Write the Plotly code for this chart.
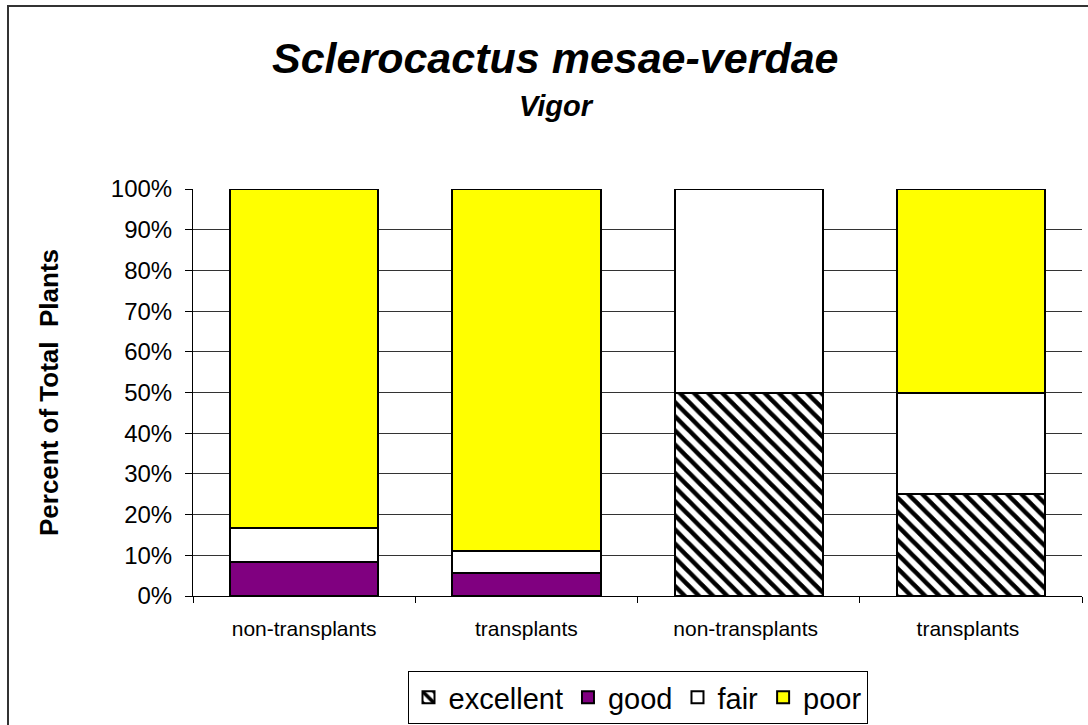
import plotly.graph_objects as go

categories = ["non-transplants", "transplants", "non-transplants ", "transplants "]
excellent = [0, 0, 50, 25]
good = [8.33, 5.56, 0, 0]
fair = [8.33, 5.56, 50, 25]
poor = [83.34, 88.88, 0, 50]
y_ticks = [0, 10, 20, 30, 40, 50, 60, 70, 80, 90, 100]
y_tick_labels = [f"{v}%" for v in y_ticks]

FONT = "Arial, Liberation Sans, sans-serif"
W, H = 1088, 725
L, R, T, B = 193, 6, 189, 129

def px_x(p):
    return (p - L) / (W - L - R)

def px_y(p):
    return (H - B - p) / (H - T - B)

fig = go.Figure()
line = dict(color="black", width=2)
fig.add_trace(go.Bar(name="excellent", x=categories, y=excellent,
                     marker=dict(color="white", line=line,
                                 pattern=dict(shape="\\", fgcolor="black", bgcolor="white",
                                              fgopacity=1, size=10, solidity=0.45))))
fig.add_trace(go.Bar(name="good", x=categories, y=good,
                     marker=dict(color="#800080", line=line)))
fig.add_trace(go.Bar(name="fair", x=categories, y=fair,
                     marker=dict(color="white", line=line)))
fig.add_trace(go.Bar(name="poor", x=categories, y=poor,
                     marker=dict(color="#FFFF00", line=line)))

fig.update_layout(
    width=W, height=H,
    barmode="stack", bargap=0.333,
    paper_bgcolor="white", plot_bgcolor="white",
    margin=dict(l=L, r=R, t=T, b=B, pad=0, autoexpand=False),
    font=dict(family=FONT, color="black"),
    showlegend=True,
    legend=dict(orientation="h", x=0.5, xanchor="center", y=px_y(671), yanchor="top",
                yref="paper", bordercolor="black", borderwidth=1,
                font=dict(size=29, family=FONT), traceorder="normal",
                itemwidth=30, tracegroupgap=0),
    xaxis=dict(showline=True, linecolor="black", linewidth=1, ticks="outside",
               tickson="boundaries", ticklen=6, tickcolor="black", automargin=False,
               ticklabelstandoff=14,
               tickfont=dict(size=21, family=FONT), showgrid=False),
    yaxis=dict(range=[0, 100], tickvals=y_ticks, ticktext=y_tick_labels,
               showline=True, linecolor="black", linewidth=1, ticks="outside",
               ticklen=7, tickcolor="black", tickfont=dict(size=24, family=FONT),
               ticklabelstandoff=8, automargin=False,
               showgrid=True, gridcolor="#333333", gridwidth=1,
               title=dict(text="<b>Percent of Total\u00a0 Plants</b>",
                          font=dict(size=26, family=FONT), standoff=44)),
    annotations=[
        dict(text="<b><i>Sclerocactus mesae-verdae</i></b>", x=px_x(555), y=px_y(58),
             xref="paper", yref="paper", showarrow=False, font=dict(size=43, family=FONT),
             xanchor="center", yanchor="middle"),
        dict(text="<b><i>Vigor</i></b>", x=px_x(556), y=px_y(106),
             xref="paper", yref="paper", showarrow=False, font=dict(size=29, family=FONT),
             xanchor="center", yanchor="middle"),
    ],
    shapes=[dict(type="rect", xref="paper", yref="paper",
                 x0=px_x(8), x1=px_x(1100), y0=px_y(760), y1=px_y(6),
                 line=dict(color="#333333", width=2), layer="below")],
)

fig.write_html("out.html", config={"displayModeBar": False},
               post_script="document.body.style.margin='0';")
